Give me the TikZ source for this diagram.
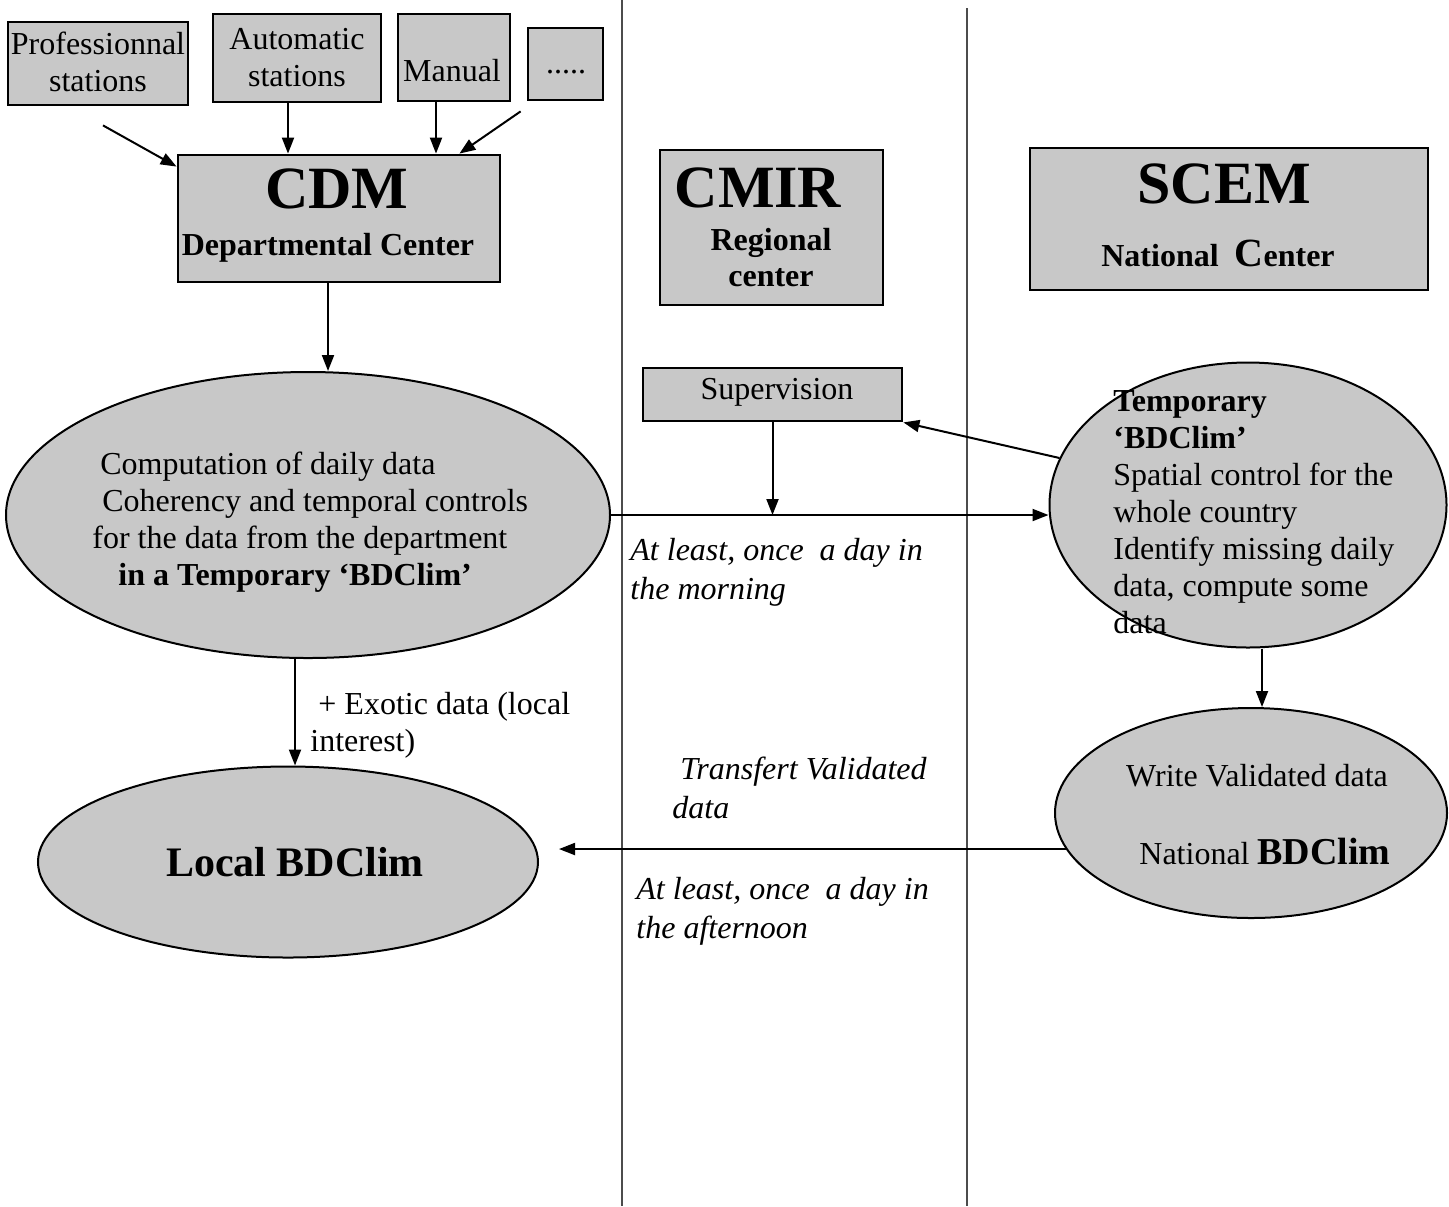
\documentclass[tikz,border=0pt]{standalone}
\usepackage{fontspec}
\setmainfont{Liberation Serif}
\usetikzlibrary{arrows.meta,shapes.geometric,calc}
\definecolor{fillgray}{RGB}{200,200,200}
\begin{document}
\begin{tikzpicture}[x=0.5pt,y=-0.5pt,
  box/.style={draw, line width=1.4pt, fill=fillgray, inner sep=0pt},
  oval/.style={ellipse, draw, line width=1pt, fill=fillgray, inner sep=0pt},
  txt/.style={inner sep=0pt, font=\fontsize{16}{18.5}\selectfont, align=center},
  ltxt/.style={inner sep=0pt, font=\fontsize{16}{18.5}\selectfont, align=left, anchor=north west},
  itxt/.style={ltxt, font=\fontsize{16}{19.5}\selectfont\itshape},
  big/.style={inner sep=0pt, anchor=base, font=\fontsize{30}{30}\selectfont\bfseries},
  arr/.style={line width=1pt, -{Triangle[length=8pt,width=6pt]}},
  vline/.style={line width=0.6pt, black!70}]
\useasboundingbox (0,0) rectangle (1449,1206);

% lane separators
\draw[vline] (622,0) -- (622,1206);
\draw[vline] (967,8) -- (967,1206);

% source boxes
\node[box, minimum width=90pt, minimum height=41.5pt] (prof) at (98,63.5) {};
\node[txt] (proft) at (98,62) {Professionnal\\stations};
\node[box, minimum width=84pt, minimum height=44pt] (auto) at (297,58) {};
\node[txt] (autot) at (297,57.5) {Automatic\\stations};
\node[box, minimum width=56pt, minimum height=43.5pt] (man) at (454,57.5) {};
\node[txt, anchor=base] (mant) at (452,81) {Manual};
\node[box, minimum width=37.5pt, minimum height=36pt] (dots) at (565.5,64) {};
\node[txt, anchor=base] (dotst) at (566,73) {.....};

% centers
\node[box, minimum width=161pt, minimum height=63.5pt] (cdm) at (339,218.5) {};
\node[big] (cdmt) at (337,208) {CDM};
\node[txt, anchor=base, font=\fontsize{16}{18.5}\selectfont\bfseries] (cdms) at (328,255) {Departmental Center};

\node[box, minimum width=111.5pt, minimum height=77.5pt] (cmir) at (771.5,227.5) {};
\node[big] (cmirt) at (758,207) {CMIR};
\node[txt, anchor=base, font=\fontsize{16}{18}\selectfont\bfseries] (cmirs) at (771,250) {Regional};
\node[txt, anchor=base, font=\fontsize{16}{18}\selectfont\bfseries] (cmirs2) at (771,286) {center};

\node[box, minimum width=199pt, minimum height=71pt] (scem) at (1229,219) {};
\node[big] (scemt) at (1224,203) {SCEM};
\node[txt, anchor=base, font=\fontsize{16}{18.5}\selectfont\bfseries] (scems) at (1218,266) {National\ \ {\fontsize{20}{20}\selectfont C}enter};

\node[box, minimum width=129.5pt, minimum height=26.5pt] (sup) at (772.5,394.5) {};
\node[txt, anchor=base] (supt) at (777,399) {Supervision};

% ellipses
\node[oval, minimum width=302pt, minimum height=143pt] (e1) at (308,515) {};
\node[ltxt] (e1t) at (92,452) {\hspace*{4pt}Computation of daily data\\\hspace*{5pt}Coherency and temporal controls\\for the data from the department\\\hspace*{13pt}\textbf{in a Temporary ‘BDClim’}};

\node[oval, minimum width=250pt, minimum height=95.5pt] (loc) at (288,862) {};
\node[txt, anchor=base, font=\fontsize{21}{21}\selectfont\bfseries] (loct) at (295,876) {Local BDClim};

\node[oval, minimum width=198.5pt, minimum height=142.5pt] (e2) at (1248,505) {};
\node[ltxt] (e2t) at (1113,390) {\textbf{Temporary}\\\textbf{‘BDClim’}\\Spatial control for the\\whole country\\Identify missing daily\\data, compute some\\data};

\node[oval, minimum width=196pt, minimum height=105pt] (e3) at (1251,813) {};
\node[txt, anchor=base] (e3t1) at (1257,786) {Write Validated data};
\node[txt, anchor=base] (e3t2) at (1265,864) {National {\fontsize{19}{19}\selectfont\bfseries BDClim}};

% labels
\node[ltxt] (exo) at (310,692) {\hspace*{4pt}+ Exotic data (local\\interest)};
\node[itxt] (morn) at (630,538) {At least, once\ \ a day in\\the morning};
\node[itxt] (trans) at (672,757) {\hspace*{4pt}Transfert Validated\\data};
\node[itxt] (aft) at (636,877) {At least, once\ \ a day in\\the afternoon};

% connectors
\draw[arr] ([shift={(2.5pt,-9.5pt)}]prof.south) -- ([yshift=-6.5pt]cdm.north west);
\draw[arr] ([xshift=-4.5pt]auto.south) -- ([xshift=-4.5pt]auto.south |- cdm.north);
\draw[arr] ([xshift=-9pt]man.south) -- ([xshift=-9pt]man.south |- cdm.north);
\draw[arr] ([shift={(-3pt,-5pt)}]dots.south west) -- ([xshift=-21pt]cdm.north east);
\draw[arr] ([xshift=-5.5pt]cdm.south) -- ([xshift=-5.5pt]cdm.south |- e1.north);
\draw[arr] ([xshift=-6.5pt]e1.south) -- ([xshift=-6.5pt]e1.south |- loc.north);
\draw[arr] (e1.east) -- (e1.east -| e2.west);
\draw[arr] (sup.south) -- (sup.south |- e1.east);
\draw[arr] (e2.166) -- (sup.south east);
\draw[arr] ([xshift=7pt]e2.south) -- ([xshift=7pt]e2.south |- e3.north);
\coordinate (locin) at ([xshift=10pt]loc.east);
\draw[arr] (e3.191) -- (locin |- e3.191);
\end{tikzpicture}
\end{document}
